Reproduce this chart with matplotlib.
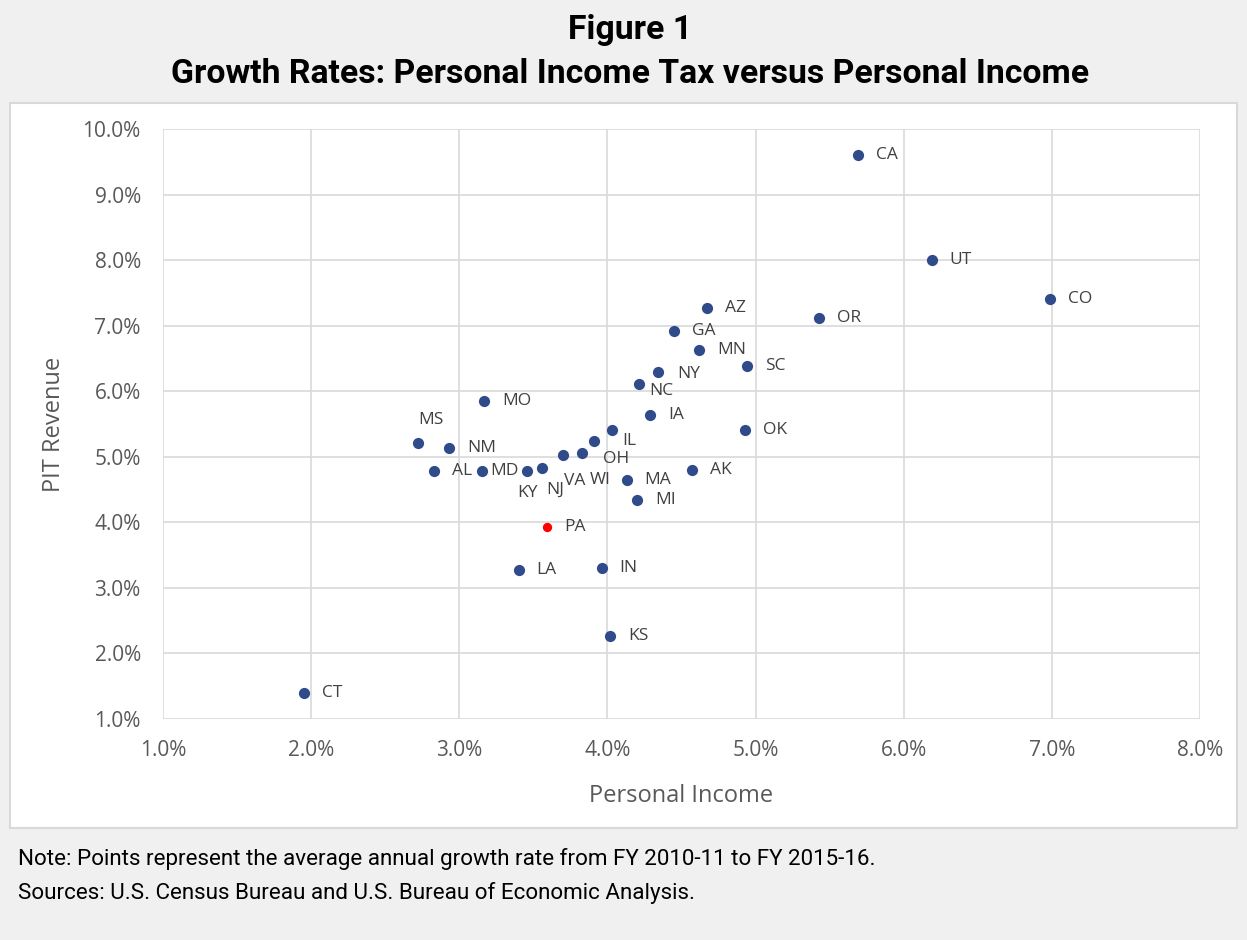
import matplotlib.pyplot as plt
from matplotlib.patches import Rectangle
from matplotlib.ticker import FuncFormatter

# data (average annual growth, %)
states = ["CA", "UT", "CO", "AZ", "OR", "GA", "MN", "SC", "NY", "NC", "MO", "IA",
          "OK", "IL", "MS", "NM", "AL", "MD", "KY", "NJ", "VA", "WI", "OH", "MA",
          "MI", "AK", "PA", "LA", "IN", "KS", "CT"]
income = [5.69, 6.19, 6.99, 4.67, 5.43, 4.45, 4.62, 4.94, 4.34, 4.21, 3.17, 4.29,
          4.93, 4.03, 2.72, 2.93, 2.83, 3.15, 3.46, 3.56, 3.70, 3.83, 3.91, 4.13,
          4.20, 4.57, 3.59, 3.40, 3.96, 4.02, 1.95]
pit = [9.60, 8.00, 7.41, 7.27, 7.12, 6.92, 6.63, 6.39, 6.30, 6.11, 5.85, 5.64,
       5.41, 5.41, 5.21, 5.14, 4.79, 4.79, 4.79, 4.83, 5.02, 5.06, 5.24, 4.65,
       4.34, 4.80, 3.93, 3.28, 3.31, 2.27, 1.39]

# label offsets (pixels) where the default right-hand placement isn't used
offsets = {"MS": (13, 23, "center"), "KY": (0, -22, "center"), "NJ": (13, -22, "center"),
           "VA": (12, -26, "center"), "WI": (18, -27, "center"), "OH": (22, -18, "center"),
           "IL": (10, -11, "left"), "NC": (11, -7, "left"), "NY": (19, -2, "left"),
           "MD": (9, 0, "left")}

fig = plt.figure(figsize=(12.47, 9.40), dpi=100, facecolor="#f0f0f0")

# white chart box
box = Rectangle((10 / 1247, 1 - 828 / 940), 1227 / 1247, 725 / 940,
                transform=fig.transFigure, facecolor="white",
                edgecolor="#d9d9d9", linewidth=1.5, zorder=-5)
fig.add_artist(box)

ax = fig.add_axes([163 / 1247, 1 - 719 / 940, 1037 / 1247, 590 / 940])
ax.set_facecolor("white")

for s, xv, yv in zip(states, income, pit):
    c = "#ff0000" if s == "PA" else "#2f4b8a"
    sz = 45 if s == "PA" else 65
    ax.scatter(xv, yv, s=sz, color=c, zorder=3, linewidths=0)
    dx, dy, ha = offsets.get(s, (18, 0, "left"))
    ax.annotate(s, (xv, yv), xytext=(dx, dy), textcoords="offset pixels",
                ha=ha, va="center", fontsize=12.5, color="#404040",
                family="Open Sans", zorder=4)

ax.set_xlim(1, 8)
ax.set_ylim(1, 10)
ax.set_xticks(range(1, 9))
ax.set_yticks(range(1, 11))
pct = FuncFormatter(lambda v, p: f"{v:.1f}%")
ax.xaxis.set_major_formatter(pct)
ax.yaxis.set_major_formatter(pct)
ax.grid(True, color="#d9d9d9", linewidth=1.2)
ax.set_axisbelow(True)
for sp in ax.spines.values():
    sp.set_visible(False)
ax.tick_params(length=0, labelsize=15, labelcolor="#595959")
ax.tick_params(axis="y", pad=16)
ax.tick_params(axis="x", pad=15)
for lab in ax.get_xticklabels() + ax.get_yticklabels():
    lab.set_family("Open Sans")

ax.set_xlabel("Personal Income", fontsize=17, color="#595959", family="Open Sans", labelpad=17)
ax.set_ylabel("PIT Revenue", fontsize=17, color="#595959", family="Open Sans", labelpad=12)

fig.text(630 / 1247, 1 - 30 / 940, "Figure 1", ha="center", va="center",
         fontsize=24.3, fontweight="bold", family="Roboto")
fig.text(630 / 1247, 1 - 74 / 940, "Growth Rates: Personal Income Tax versus Personal Income",
         ha="center", va="center", fontsize=24.3, fontweight="bold", family="Roboto")

fig.text(18 / 1247, 1 - 859 / 940,
         "Note: Points represent the average annual growth rate from FY 2010-11 to FY 2015-16.",
         ha="left", va="center", fontsize=16.1, family="Roboto")
fig.text(18 / 1247, 1 - 893 / 940,
         "Sources: U.S. Census Bureau and U.S. Bureau of Economic Analysis.",
         ha="left", va="center", fontsize=16.1, family="Roboto")

fig.savefig("out.png", dpi=100, facecolor=fig.get_facecolor())
